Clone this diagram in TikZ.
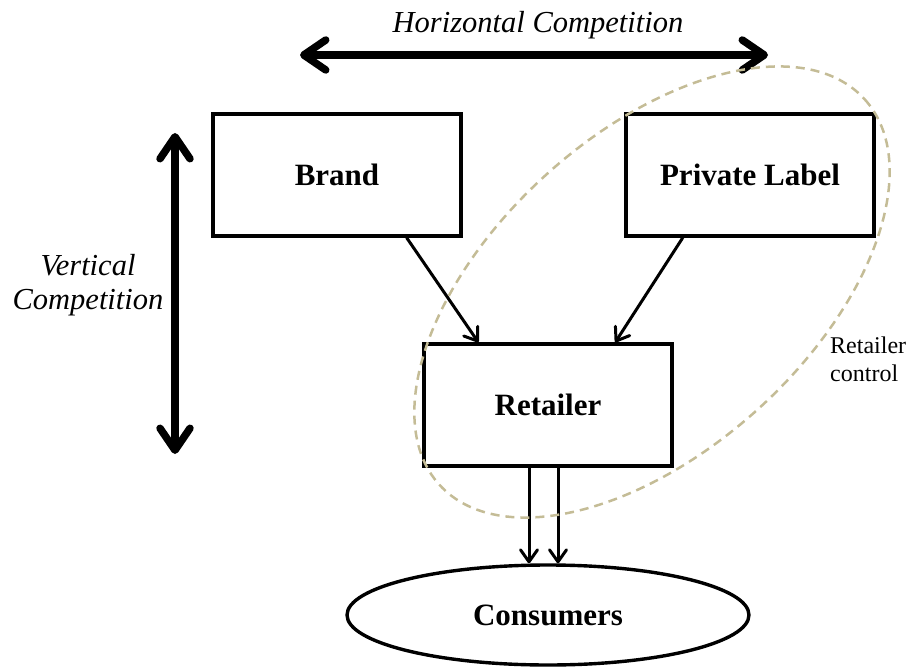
\documentclass[tikz,border=0pt]{standalone}
\usepackage{fontspec}
\setmainfont{Liberation Serif}
\usepackage{xcolor}
\usetikzlibrary{arrows.meta}
\usetikzlibrary{shapes.geometric}
\definecolor{tan}{RGB}{196,188,150}

\begin{document}
\begin{tikzpicture}[x=1pt,y=-1pt,
  box/.style={draw,line width=3.4pt,minimum width=248pt,minimum height=122pt,font=\fontsize{31}{36}\selectfont\bfseries},
  conn/.style={line width=3pt,-{Straight Barb[round,length=12pt,width=17pt]}},
  bigarrow/.style={line width=7.5pt,{Straight Barb[round,length=22pt,width=30pt]}-{Straight Barb[round,length=22pt,width=30pt]}},
  lbl/.style={font=\fontsize{30.5}{34}\selectfont\itshape}]
 \useasboundingbox (0,0) rectangle (912,668);

 \node[box] (brand) at (337,175) {Brand};
 \node[box] (private) at (750,175) {Private Label};
 \node[box] (retailer) at (548,405) {Retailer};
 \node[draw,ellipse,line width=3.4pt,minimum width=402pt,minimum height=100pt,font=\fontsize{31}{36}\selectfont\bfseries] (consumers) at (548,615) {Consumers};

 \draw[conn] (brand.-42) -- (retailer.138);
 \draw[conn] (private.-137) -- (retailer.43);
 \draw[conn] ([xshift=-19pt]retailer.south) -- ([xshift=-19pt]consumers.north);
 \draw[conn] ([xshift=10pt]retailer.south) -- ([xshift=10pt]consumers.north);

 % competition arrows
 \node[lbl,anchor=base] (hlabel) at (538,33) {Horizontal Competition};
 \coordinate (hleft) at (300,55);
 \coordinate (hright) at (768,55);
 \draw[bigarrow] (hleft) -- (hright);

 \node[lbl,align=center] (vlabel) at (88,285) {Vertical\\Competition};
 \coordinate (vtop) at (175,133);
 \coordinate (vbottom) at (175,454);
 \draw[bigarrow] (vtop) -- (vbottom);

 % retailer control
 \draw[tan,line width=2.5pt,dash pattern=on 9pt off 6pt,rotate around={42.2:(652,292)}] (652,292) ellipse (287 and 158);
 \node[font=\fontsize{24}{28}\selectfont,align=left,anchor=west,inner sep=0pt] (rcontrol) at (830,359) {Retailer\\control};

\end{tikzpicture}
\end{document}
